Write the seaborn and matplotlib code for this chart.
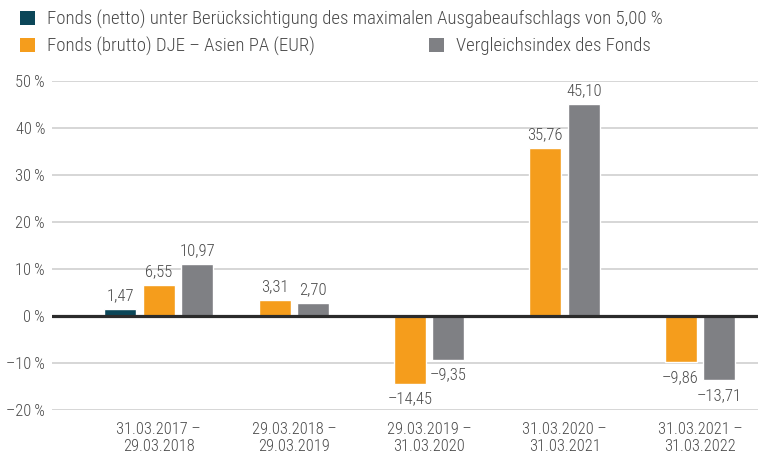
import numpy as np
import pandas as pd
import matplotlib.pyplot as plt
from matplotlib.patches import Patch
import seaborn as sns

# data
periods = ["31.03.2017 –\n29.03.2018", "29.03.2018 –\n29.03.2019", "29.03.2019 –\n31.03.2020",
           "31.03.2020 –\n31.03.2021", "31.03.2021 –\n31.03.2022"]
series_names = ["Fonds (netto) unter Berücksichtigung des maximalen Ausgabeaufschlags von 5,00 %",
                "Fonds (brutto) DJE – Asien PA (EUR)",
                "Vergleichsindex des Fonds"]
netto = [1.47, np.nan, np.nan, np.nan, np.nan]
brutto = [6.55, 3.31, -14.45, 35.76, -9.86]
index = [10.97, 2.70, -9.35, 45.10, -13.71]
yticks = [-20, -10, 0, 10, 20, 30, 40, 50]

colors = ["#0b4658", "#f59d1c", "#7f8084"]

sns.set_theme(style="white")
plt.rcParams['font.family'] = ['Roboto Condensed', 'DejaVu Sans']
plt.rcParams['font.weight'] = 'light'
text_col = "#4a4a4a"

# long table, bars of one period are centred around the period index
pitch = 0.2845
rows = []
for i, p in enumerate(periods):
    vals = [(s, v) for s, v in zip(series_names, (netto[i], brutto[i], index[i])) if not np.isnan(v)]
    n = len(vals)
    for k, (s, v) in enumerate(vals):
        rows.append({'pos': round(i + (k - (n - 1) / 2) * pitch, 4), 'value': v, 'series': s})
df = pd.DataFrame(rows)

fig = plt.figure(figsize=(7.58, 4.59), dpi=100)
ax = fig.add_axes([52 / 758, 1 - 410 / 459, (758 - 52) / 758, (410 - 81) / 459])

sns.barplot(data=df, x='pos', y='value', hue='series', hue_order=series_names,
            palette=colors, native_scale=True, dodge=False, width=0.83,
            saturation=1, errorbar=None, legend=False, ax=ax, zorder=2)

# value labels
for _, r in df.iterrows():
    v = r['value']
    txt = f"{abs(v):.2f}".replace('.', ',')
    if v < 0:
        txt = "–" + txt
        ax.annotate(txt, (r['pos'], v), xytext=(0, -5.5), textcoords='offset points',
                    ha='center', va='top', fontsize=12, color=text_col)
    else:
        ax.annotate(txt, (r['pos'], v), xytext=(0, 6.5), textcoords='offset points',
                    ha='center', va='baseline', fontsize=12, color=text_col)

ax.axhline(0, color="#2b2b2b", lw=2.3, zorder=3)
ax.set_ylim(-20, 50)
ax.set_xlim(-0.788, 4.43)
ax.set_yticks(yticks)
ax.set_yticklabels([("–" if t < 0 else "") + f"{abs(t)}\u2009%" for t in yticks])
ax.set_xticks(range(len(periods)))
ax.set_xticklabels(periods, linespacing=1.15)
ax.tick_params(axis='both', length=0, labelsize=11.8, labelcolor=text_col)
ax.tick_params(axis='x', pad=9)
ax.tick_params(axis='y', pad=5)
ax.set_xlabel('')
ax.set_ylabel('')
ax.grid(axis='y', color="#cfcfcf", lw=1.2)
ax.set_axisbelow(True)
for s in ax.spines.values():
    s.set_visible(False)

# legend: first entry alone, then two in a row
handles = [Patch(facecolor=c, edgecolor='none') for c in colors]
leg_kw = dict(frameon=False, fontsize=13.5, handlelength=0.78, handleheight=0.78,
              handletextpad=0.65, borderpad=0, borderaxespad=0, labelcolor=text_col)
leg1 = fig.legend(handles[:1], series_names[:1], loc='center left',
                  bbox_to_anchor=(20 / 758, 1 - 19 / 459), **leg_kw)
leg2 = fig.legend(handles[1:], series_names[1:], loc='center left', ncol=2, columnspacing=6.1,
                  bbox_to_anchor=(20 / 758, 1 - 46 / 459), **leg_kw)

fig.savefig('out.png', dpi=100)
